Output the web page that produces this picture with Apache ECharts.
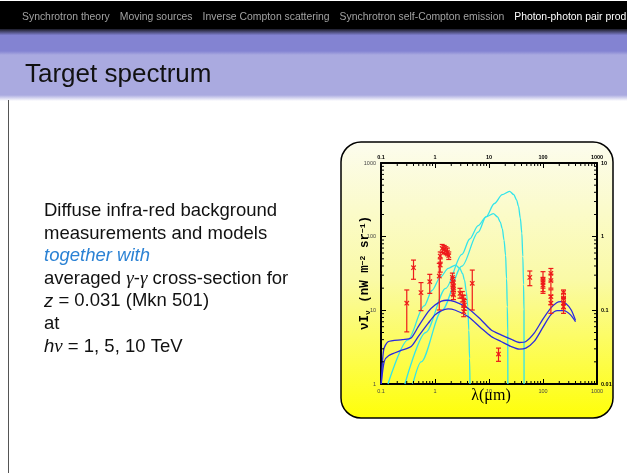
<!DOCTYPE html>
<html>
<head>
<meta charset="utf-8">
<script src="https://cdn.jsdelivr.net/npm/echarts@6/dist/echarts.min.js"></script>
<style>
  html, body { margin: 0; padding: 0; background: #ffffff; }
  #main { width: 627px; height: 473px; }
</style>
</head>
<body>
<div id="main"></div>
<script>
// ---- slide text ----
const navItems = ['Synchrotron theory', 'Moving sources', 'Inverse Compton scattering',
                  'Synchrotron self-Compton emission', 'Photon-photon pair prod'];
const slideTitle = 'Target spectrum';

// ---- axis decades ----
const lambdaTicks = [0.1, 1, 10, 100, 1000];      // wavelength, micron
const fluxTicks = [1, 10, 100, 1000];             // nW m^-2 sr^-1
const rightTicks = [0.01, 0.1, 1, 10];

// ---- EBL measurements: wavelength (micron), nuI_nu and error range ----
const irWavelength = [0.30, 0.40, 0.55, 0.80, 1.2, 1.25, 1.25, 1.36, 1.48, 1.59, 1.70, 1.80,
                      2.1, 2.15, 2.2, 2.15, 2.2, 2.9, 3.2, 3.4, 3.5, 3.4, 4.9, 15,
                      57, 100, 100, 100, 140, 140, 140, 140, 240, 240, 240, 240];
const irFlux     = [12.5, 37.9, 17.4, 24.5, 29.2, 41.2, 54.5, 69.2, 67.1, 64.4, 61.8, 55.1,
                    28.0, 24.5, 21.4, 18.9, 16.2, 17.0, 15.4, 13.8, 11.8, 9.6, 23.3, 2.55,
                    28.0, 25.8, 23.8, 22.1, 31.8, 25.3, 15.4, 12.5, 17.4, 14.6, 12.7, 11.2];
const irFluxLow  = [5.1, 26.4, 9.9, 17.0, 10.1, 33, 45, 61.1, 59, 57, 55, 49,
                    24, 21, 18, 16, 14, 14.6, 13, 11.5, 10, 8.2, 10.1, 2.03,
                    21.6, 17.0, 20, 18, 25, 20, 12, 9.1, 14.5, 12, 10.5, 9.1];
const irFluxHigh = [18.9, 48.1, 23.8, 30.8, 43.4, 50, 62, 78.4, 76, 73, 70, 62,
                    32, 28, 25, 22, 19, 19.9, 18, 16, 14, 11, 35.2, 3.07,
                    34.2, 33.5, 28, 26, 37, 31, 19, 16, 18.9, 17, 15, 13];

// ---- EBL model curves (upper and lower) ----
const modelHighLambda = [0.101, 0.112, 0.135, 0.25, 0.36, 0.49, 0.75, 1.0, 1.32, 1.63, 2.32, 4.08,
                         7.18, 11.0, 16.7, 25.5, 36.3, 48.2, 68.6, 97.5, 139, 179, 212, 262, 333, 400];
const modelHigh       = [1, 2.9, 3.75, 4.0, 4.2, 6.0, 9.6, 11.8, 13.3, 13.7, 13.1, 10.7,
                         7.4, 5.4, 4.65, 4.06, 3.66, 3.78, 4.9, 7.4, 10.7, 12.7, 13.1, 12.5, 10.1, 7.3];
const modelLowLambda  = [0.101, 0.115, 0.138, 0.25, 0.361, 0.492, 0.751, 1.0, 1.32, 1.75, 2.32, 4.08,
                         7.18, 11.0, 16.7, 25.5, 36.3, 48.2, 68.6, 97.5, 139, 184, 244, 324, 400];
const modelLow        = [1, 2.03, 2.42, 2.9, 3.23, 4.42, 6.69, 8.67, 9.93, 10.45, 10.1, 8.24,
                         5.72, 4.42, 3.78, 3.23, 2.97, 3.07, 3.78, 5.72, 8.67, 9.93, 9.93, 8.67, 7.0];

// ---- averaged gamma-gamma cross-section for 1, 5, 10 TeV ----
const xsec1Lambda  = [0.1346, 0.316, 0.631, 0.879, 1.259, 1.758, 2.404, 2.884, 3.236, 3.524, 3.802,
                      4.055, 4.227, 4.365, 4.446];
const xsec1        = [1, 3.98, 11.5, 18.6, 28.2, 37.2, 41.2, 37.15, 31.6, 25.7, 17.8, 11.2, 5.37, 2.24, 1];
const xsec5Lambda  = [0.277, 0.673, 1.58, 3.155, 4.395, 6.295, 8.79, 12.02, 14.42, 16.18, 17.62,
                      19.01, 20.28, 21.14, 21.83, 22.23, 22.34];
const xsec5        = [1, 5, 19.9, 57.5, 93, 141, 186, 206, 185.8, 158, 128.5, 89, 56, 26.85, 11.2, 5, 1];
const xsec10Lambda = [0.389, 0.554, 1.346, 3.16, 6.31, 8.79, 12.59, 17.58, 24.04, 28.84, 32.36,
                      35.24, 38.02, 40.55, 42.27, 43.65, 44.46, 44.6];
const xsec10       = [1, 2.0, 10, 39.8, 115, 186, 282, 372, 412, 371.5, 316, 257, 178, 112, 53.7, 22.4, 10, 1];

// ---------------------------------------------------------------
const SANS = '"Liberation Sans", Arial, Helvetica, sans-serif';
const SERIF = '"Liberation Serif", "DejaVu Serif", serif';
const MONO = '"Liberation Mono", "Courier New", monospace';
const RED = '#ee1a1a';
const BLUE = '#2a2ae0';
const CYAN = '#33e4ea';

const pairs = (xs, ys) => xs.map((x, i) => [x, ys[i]]);
const labelFmt = v => String(+(+v).toPrecision(3));

// minor tick values (2..9 per decade) for the log frames
const minorLambda = [];
[0.1, 1, 10, 100].forEach(d => { for (let k = 2; k <= 9; k++) minorLambda.push(+(d * k).toPrecision(3)); });
const minorFlux = [];
[1, 10, 100].forEach(d => { for (let k = 2; k <= 9; k++) minorFlux.push(d * k); });

const chart = echarts.init(document.getElementById('main'), null, { renderer: 'canvas' });

const graphics = [
  // header bands
  { type: 'rect', shape: { x: 0, y: 1, width: 627, height: 28 }, style: { fill: '#000000' }, z: -20 },
  { type: 'rect', shape: { x: 0, y: 29, width: 627, height: 6 }, z: -20,
    style: { fill: new echarts.graphic.LinearGradient(0, 0, 0, 1, [
      { offset: 0, color: '#1c1c28' }, { offset: 1, color: '#7d7dcb' }]) } },
  { type: 'rect', shape: { x: 0, y: 35, width: 627, height: 16 }, style: { fill: '#8383d2' }, z: -20 },
  { type: 'rect', shape: { x: 0, y: 51, width: 627, height: 4 }, z: -20,
    style: { fill: new echarts.graphic.LinearGradient(0, 0, 0, 1, [
      { offset: 0, color: '#8383d2' }, { offset: 1, color: '#aaaae0' }]) } },
  { type: 'rect', shape: { x: 0, y: 55, width: 627, height: 40 }, style: { fill: '#aaaae0' }, z: -20 },
  { type: 'rect', shape: { x: 0, y: 95, width: 627, height: 6 }, z: -20,
    style: { fill: new echarts.graphic.LinearGradient(0, 0, 0, 1, [
      { offset: 0, color: '#aaaae0' }, { offset: 1, color: '#ffffff' }]) } },
  // left rule of the slide body
  { type: 'line', shape: { x1: 8.5, y1: 100, x2: 8.5, y2: 473 }, style: { stroke: '#555555', lineWidth: 1 }, z: -20 },
  // frame title
  { type: 'text', x: 25, y: 75, z: 10,
    style: { text: slideTitle, font: '26px ' + SANS, fill: '#111111', verticalAlign: 'middle' } },
  // rounded yellow panel behind the plot
  { type: 'rect', shape: { x: 341, y: 142, width: 272, height: 276, r: 20 }, z: -10,
    style: { stroke: '#000000', lineWidth: 1.5,
      fill: new echarts.graphic.LinearGradient(0, 0, 0, 1, [
        { offset: 0, color: '#fcfcee' }, { offset: 0.5, color: '#fafaa6' }, { offset: 1, color: '#ffff08' }]) } },
  // axis titles
  { type: 'text', x: 491, y: 396, z: 10,
    style: { text: 'λ(μm)', font: '16px ' + SERIF, fill: '#000', align: 'center', verticalAlign: 'middle' } },
  { type: 'text', x: 365, y: 273, rotation: Math.PI / 2, z: 10,
    style: {
      text: '{a|νI}{s|ν}{a| (nW m}{p|−2}{a| sr}{p|−1}{a|)}',
      align: 'center', verticalAlign: 'middle',
      rich: {
        a: { font: 'bold 12.5px ' + MONO, fill: '#000' },
        s: { font: 'bold 8px ' + MONO, fill: '#000', verticalAlign: 'bottom' },
        p: { font: 'bold 8px ' + MONO, fill: '#000', verticalAlign: 'top' }
      }
    } }
];

// header navigation: sections laid out left to right with a fixed gap
const NAV_FONT = 10.4, NAV_GAP = 10;
{
  const ctx = document.createElement('canvas').getContext('2d');
  ctx.font = NAV_FONT + 'px ' + SANS;
  let x = 22;
  navItems.forEach((t, i) => {
    graphics.push({ type: 'text', x: x, y: 17, z: 10,
      style: { text: t, font: NAV_FONT + 'px ' + SANS,
               fill: i === navItems.length - 1 ? '#ffffff' : '#a2a2a2', verticalAlign: 'middle' } });
    x += ctx.measureText(t).width + NAV_GAP;
  });
}

// body text of the slide
const bodyLines = [
  '{n|Diffuse infra-red background}',
  '{n|measurements and models}',
  '{e|together with}',
  '{n|averaged }{g|γ}{n|-}{g|γ}{n| cross-section for}',
  '{i|z}{n| = 0.031 (Mkn 501)}',
  '{n|at}',
  '{i|h}{g|ν}{n| = 1, 5, 10 TeV}'
];
const bodyRich = {
  n: { font: '18.5px ' + SANS, fill: '#111111' },
  e: { font: 'italic 18.5px ' + SANS, fill: '#2b82d4' },
  i: { font: 'italic 18.5px ' + SANS, fill: '#111111' },
  g: { font: 'italic 19px ' + SERIF, fill: '#111111' }
};
bodyLines.forEach((t, i) => {
  graphics.push({ type: 'text', x: 44, y: 211 + 22.6 * i, z: 10,
    style: { text: t, rich: bodyRich, verticalAlign: 'middle' } });
});

const axisCommon = {
  type: 'log', logBase: 10,
  axisLine: { show: true, onZero: false, lineStyle: { color: '#000', width: 2 } },
  axisTick: { show: true, inside: true, length: 5, lineStyle: { color: '#000', width: 1 } },
  splitLine: { show: false },
  minorTick: { show: false }
};

const option = {
  animation: false,
  backgroundColor: 'transparent',
  graphic: { elements: graphics },
  grid: { left: 381, top: 163, width: 216, height: 221, containLabel: false },
  xAxis: [
    Object.assign({}, axisCommon, { position: 'bottom', min: lambdaTicks[0], max: lambdaTicks[lambdaTicks.length - 1],
      axisLabel: { fontSize: 5.5, color: '#444', margin: 4, fontFamily: SANS, formatter: labelFmt } }),
    Object.assign({}, axisCommon, { position: 'top', min: lambdaTicks[0], max: lambdaTicks[lambdaTicks.length - 1],
      axisLabel: { fontSize: 5.5, color: '#000', fontWeight: 'bold', margin: 3, fontFamily: SANS, formatter: labelFmt } })
  ],
  yAxis: [
    Object.assign({}, axisCommon, { position: 'left', min: fluxTicks[0], max: fluxTicks[fluxTicks.length - 1],
      axisLabel: { fontSize: 5.5, color: '#444', margin: 5, fontFamily: SANS, formatter: labelFmt } }),
    Object.assign({}, axisCommon, { position: 'right', min: rightTicks[0], max: rightTicks[rightTicks.length - 1],
      axisLabel: { fontSize: 5.5, color: '#000', fontWeight: 'bold', margin: 4, fontFamily: SANS, formatter: labelFmt } })
  ],
  series: [
    // minor ticks along the wavelength axes
    { type: 'custom', xAxisIndex: 0, yAxisIndex: 0, silent: true, z: 5,
      data: minorLambda.map(v => [v, 10]),
      renderItem: (params, api) => {
        const cs = params.coordSys;
        const px = api.coord([api.value(0), 10])[0];
        const st = { stroke: '#000', lineWidth: 1 };
        return { type: 'group', children: [
          { type: 'line', shape: { x1: px, y1: cs.y + cs.height, x2: px, y2: cs.y + cs.height - 3 }, style: st },
          { type: 'line', shape: { x1: px, y1: cs.y, x2: px, y2: cs.y + 3 }, style: st }
        ] };
      } },
    // minor ticks along the flux axes
    { type: 'custom', xAxisIndex: 0, yAxisIndex: 0, silent: true, z: 5,
      data: minorFlux.map(v => [1, v]),
      renderItem: (params, api) => {
        const cs = params.coordSys;
        const py = api.coord([1, api.value(1)])[1];
        const st = { stroke: '#000', lineWidth: 1 };
        return { type: 'group', children: [
          { type: 'line', shape: { x1: cs.x, y1: py, x2: cs.x + 3, y2: py }, style: st },
          { type: 'line', shape: { x1: cs.x + cs.width, y1: py, x2: cs.x + cs.width - 3, y2: py }, style: st }
        ] };
      } },
    // cross-section curves
    { type: 'line', name: '1 TeV', data: pairs(xsec1Lambda, xsec1), showSymbol: false, smooth: 0.3,
      smoothMonotone: 'x', lineStyle: { color: CYAN, width: 1.3 }, z: 3 },
    { type: 'line', name: '5 TeV', data: pairs(xsec5Lambda, xsec5), showSymbol: false, smooth: 0.3,
      smoothMonotone: 'x', lineStyle: { color: CYAN, width: 1.3 }, z: 3 },
    { type: 'line', name: '10 TeV', data: pairs(xsec10Lambda, xsec10), showSymbol: false, smooth: 0.3,
      smoothMonotone: 'x', lineStyle: { color: CYAN, width: 1.3 }, z: 3 },
    // EBL model band
    { type: 'line', name: 'model high', data: pairs(modelHighLambda, modelHigh), showSymbol: false, smooth: 0.25,
      lineStyle: { color: BLUE, width: 1.3 }, z: 3 },
    { type: 'line', name: 'model low', data: pairs(modelLowLambda, modelLow), showSymbol: false, smooth: 0.25,
      lineStyle: { color: BLUE, width: 1.3 }, z: 3 },
    // measurements with error bars
    { type: 'custom', name: 'measurements', z: 4,
      data: irWavelength.map((w, i) => [w, irFlux[i], irFluxLow[i], irFluxHigh[i]]),
      renderItem: (params, api) => {
        const c = api.coord([api.value(0), api.value(1)]);
        const lo = api.coord([api.value(0), api.value(2)]);
        const hi = api.coord([api.value(0), api.value(3)]);
        const st = { stroke: RED, lineWidth: 1.2 };
        const cap = 2.5, m = 2.2;
        return { type: 'group', children: [
          { type: 'line', shape: { x1: c[0], y1: hi[1], x2: c[0], y2: lo[1] }, style: st },
          { type: 'line', shape: { x1: c[0] - cap, y1: hi[1], x2: c[0] + cap, y2: hi[1] }, style: st },
          { type: 'line', shape: { x1: c[0] - cap, y1: lo[1], x2: c[0] + cap, y2: lo[1] }, style: st },
          { type: 'line', shape: { x1: c[0] - m, y1: c[1] - m, x2: c[0] + m, y2: c[1] + m }, style: st },
          { type: 'line', shape: { x1: c[0] - m, y1: c[1] + m, x2: c[0] + m, y2: c[1] - m }, style: st }
        ] };
      } }
  ]
};

chart.setOption(option);
</script>
</body>
</html>
